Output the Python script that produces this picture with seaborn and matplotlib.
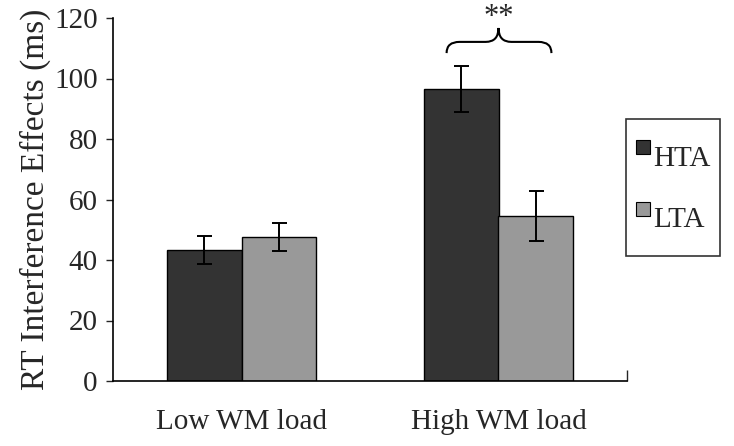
import pandas as pd
import seaborn as sns
import matplotlib.pyplot as plt
from matplotlib.path import Path
from matplotlib.patches import PathPatch
from matplotlib.lines import Line2D

# values
loads = ['Low WM load', 'High WM load']
groups = ['HTA', 'LTA']
hta_means = [43.3, 96.5]
lta_means = [47.5, 54.5]
hta_err = [4.5, 7.7]
lta_err = [4.6, 8.2]
colors = ['#333333', '#999999']

df = pd.DataFrame({
    'load': loads * 2,
    'group': ['HTA'] * 2 + ['LTA'] * 2,
    'rt': hta_means + lta_means,
})
errs = {'HTA': hta_err, 'LTA': lta_err}

sns.set_style('ticks')
plt.rcParams['font.family'] = ['Liberation Serif', 'DejaVu Serif']

fig = plt.figure(figsize=(7.34, 4.46), dpi=100)
ax = fig.add_axes([113 / 734, 1 - 381 / 446, 514 / 734, 363 / 446])

sns.barplot(data=df, x='load', y='rt', hue='group', hue_order=groups,
            palette=colors, width=0.576, gap=0, edgecolor='black',
            linewidth=1, errorbar=None, ax=ax)

# error bars on top of the bars seaborn drew
for cont, g in zip(ax.containers, groups):
    xs = [p.get_x() + p.get_width() / 2 for p in cont.patches]
    ys = [p.get_height() for p in cont.patches]
    ax.errorbar(xs, ys, yerr=errs[g], fmt='none', ecolor='black',
                elinewidth=1.4, capsize=5.4, capthick=1.4, zorder=5)

ax.set_xlim(-0.5, 1.5)
ax.set_ylim(0, 120)
ax.set_yticks(range(0, 121, 20))
ax.set_xlabel('')
ax.set_ylabel('RT Interference Effects (ms)', fontsize=24, labelpad=2)
ax.tick_params(axis='y', labelsize=21, length=5, width=1, direction='out', pad=6)
ax.tick_params(axis='x', labelsize=21, length=0, pad=20)
ax.set_xticks([1.5], minor=True)
ax.tick_params(axis='x', which='minor', length=8, width=1, direction='in')
sns.despine(ax=ax)
for s in ['left', 'bottom']:
    ax.spines[s].set_color('black')
    ax.spines[s].set_linewidth(1.2)

# significance brace over the high load pair
x0, x1, xc = 0.798, 1.206, 1.0
yb, ym, yt = 108.4, 112.1, 116.7
dx = 0.05
verts = [(x0, yb), (x0, ym), (x0 + dx, ym),
         (xc - dx, ym), (xc, ym), (xc, yt),
         (xc, ym), (xc + dx, ym),
         (x1 - dx, ym), (x1, ym), (x1, yb)]
codes = [Path.MOVETO, Path.CURVE3, Path.CURVE3,
         Path.LINETO, Path.CURVE3, Path.CURVE3,
         Path.CURVE3, Path.CURVE3,
         Path.LINETO, Path.CURVE3, Path.CURVE3]
ax.add_patch(PathPatch(Path(verts, codes), fill=False, lw=1.5,
                       edgecolor='black', clip_on=False))
ax.text(xc, 115.5, '**', ha='center', va='bottom', fontsize=22, clip_on=False)

handles = [Line2D([], [], marker='s', ls='', markersize=10,
                  markerfacecolor=c, markeredgecolor='black', markeredgewidth=0.8)
           for c in colors]
ax.get_legend().remove()
leg = fig.legend(handles, groups, loc='upper left',
                 bbox_to_anchor=(626 / 734, 1 - 119 / 446), fontsize=21,
                 frameon=True, fancybox=False, edgecolor='black',
                 handlelength=0.5, handleheight=2.55, handletextpad=0.08,
                 labelspacing=0.2, borderpad=0.34, borderaxespad=0)
leg.get_frame().set_linewidth(1.2)

fig.savefig('out.png', dpi=100)
